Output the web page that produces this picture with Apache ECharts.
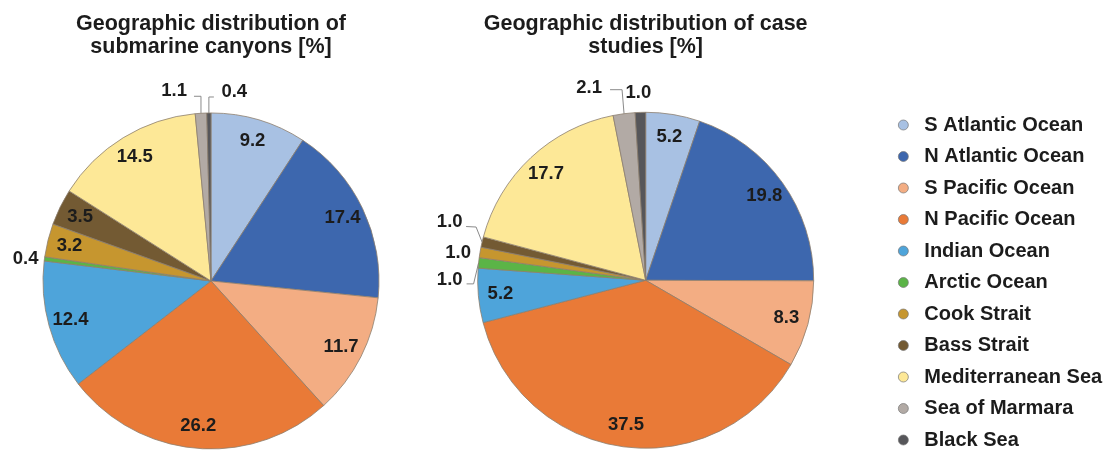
<!DOCTYPE html>
<html>
<head>
<meta charset="utf-8">
<script src="https://cdn.jsdelivr.net/npm/echarts@6/dist/echarts.min.js"></script>
<style>
html,body{margin:0;padding:0;background:#ffffff;}
#c{width:1114px;height:451px;}
</style>
</head>
<body>
<div id="c"></div>
<script>
// ---- data ----
const categories = ['S Atlantic Ocean','N Atlantic Ocean','S Pacific Ocean','N Pacific Ocean','Indian Ocean','Arctic Ocean','Cook Strait','Bass Strait','Mediterranean Sea','Sea of Marmara','Black Sea'];
const canyonValues = [9.2, 17.4, 11.7, 26.2, 12.4, 0.4, 3.2, 3.5, 14.5, 1.1, 0.4];
const caseValues   = [5.2, 19.8, 8.3, 37.5, 5.2, 1.0, 1.0, 1.0, 17.7, 2.1, 1.0];
const chartTitles = ['Geographic distribution of\nsubmarine canyons [%]', 'Geographic distribution of case\nstudies [%]'];

// ---- styling ----
const colors = ['#a8c1e3','#3d67ae','#f3ad83','#e97a37','#4ea4da','#5bb447','#c6962f','#735a33','#fde897','#b2aaa5','#56565a'];
const FONT = '"Liberation Sans", Arial, Helvetica, sans-serif';
const TXT = '#1c1c1c';
const R = 168;
const pieCenters = [['18.94%','62.3%'], ['57.96%','62.15%']];

// outside-label placement relative to the slice's edge point (from the library)
const outsideSpecs = [
  { // left pie
    9:  {align:'right', lx:-14, ly:-22.5, line:[[0,-17],[-7,-17]]},
    10: {align:'left',  lx:12.5, ly:-21.5, line:[[0,-16],[5,-16]]},
    5:  {align:'right', lx:-6, ly:0.5, line:null}
  },
  { // right pie
    10: {align:'center', lx:-2, ly:-19, line:null},
    9:  {align:'right', lx:-22, ly:-26, line:[[-2,-24],[-14,-24]]},
    7:  {align:'right', lx:-19.5, ly:-20.5, line:[[-6,-15],[-16,-15.5]]},
    6:  {align:'right', lx:-9, ly:0.5, line:null},
    5:  {align:'right', lx:-16, ly:17.5, line:[[-5,21],[-12,21]]}
  }
];

function mainData(values){
  return values.map((v,i)=>({name:categories[i], value:v, itemStyle:{color:colors[i]}}));
}
function labelData(values, specs){
  return values.map((v,i)=>{
    const d = {name:categories[i], value:v};
    if (specs[i]) {
      d.label = {position:'outside'};
      d.labelLine = {show:true};
    }
    return d;
  });
}
function makeLayout(k){
  return function(params){
    const spec = outsideSpecs[k][params.dataIndex];
    if (!spec || !params.labelLinePoints) return {};
    const e = params.labelLinePoints[0];
    const pts = spec.line
      ? [[e[0],e[1]], [e[0]+spec.line[0][0], e[1]+spec.line[0][1]], [e[0]+spec.line[1][0], e[1]+spec.line[1][1]]]
      : [[e[0],e[1]],[e[0],e[1]],[e[0],e[1]]];
    return {x:e[0]+spec.lx, y:e[1]+spec.ly, align:spec.align, verticalAlign:'middle', labelLinePoints:pts, hideOverlap:false, moveOverlap:null};
  };
}

const series = [];
[canyonValues, caseValues].forEach((vals, k)=>{
  series.push({
    type:'pie', center:pieCenters[k], radius:R, startAngle:90, clockwise:true,
    silent:true, animation:false,
    label:{show:false}, labelLine:{show:false},
    itemStyle:{borderColor:'#8d7f6e', borderWidth:0.8},
    emphasis:{disabled:true},
    data:mainData(vals)
  });
});
[canyonValues, caseValues].forEach((vals, k)=>{
  series.push({
    type:'pie', center:pieCenters[k], radius:[R*0.7, R], startAngle:90, clockwise:true,
    silent:true, animation:false, avoidLabelOverlap:false,
    itemStyle:{color:'rgba(0,0,0,0)', borderWidth:0},
    emphasis:{disabled:true},
    label:{show:true, position:'inside', color:TXT, fontFamily:FONT, fontWeight:'bold', fontSize:18.5,
           formatter:p=>p.value.toFixed(1)},
    labelLine:{show:false, lineStyle:{color:'#8a8a8a', width:1}, length:10, length2:8},
    labelLayout:makeLayout(k),
    data:labelData(vals, outsideSpecs[k])
  });
});

const chart = echarts.init(document.getElementById('c'));
chart.setOption({
  backgroundColor:'#ffffff',
  animation:false,
  title: chartTitles.map((t,k)=>({
    text:t, left:pieCenters[k][0], top:13, textAlign:'center', padding:0,
    textStyle:{fontFamily:FONT, fontWeight:'bold', fontSize:21.5, lineHeight:23, color:TXT}
  })),
  legend:{
    orient:'vertical', left:898, top:115, padding:0,
    icon:'circle', itemWidth:10, itemHeight:10, itemGap:11.5,
    data:categories,
    itemStyle:{borderColor:'#777', borderWidth:0.7},
    textStyle:{fontFamily:FONT, fontWeight:'bold', fontSize:20, lineHeight:20, color:TXT, padding:[0,0,0,11]}
  },
  series:series
});
</script>
</body>
</html>
